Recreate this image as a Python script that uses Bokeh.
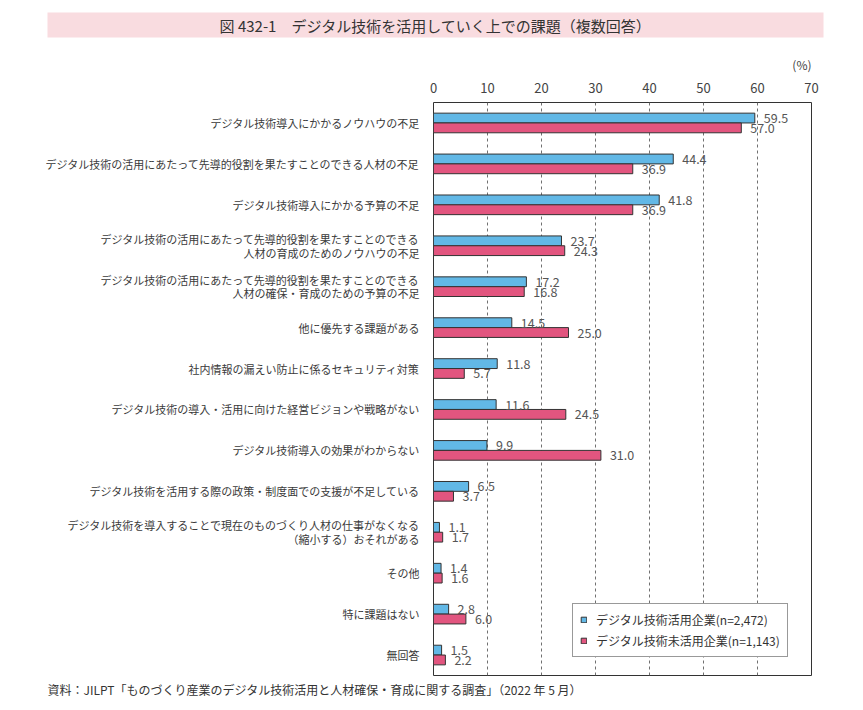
from bokeh.plotting import figure
from bokeh.models import (FactorRange, ColumnDataSource, LinearAxis, CategoricalAxis,
                          FixedTicker, Legend, Title, Range1d)
from bokeh.transform import dodge
from bokeh.embed import file_html
from bokeh.resources import INLINE
from bokeh.core.properties import value

FONT = "Noto Sans CJK JP"

categories = [
    "デジタル技術導入にかかるノウハウの不足",
    "デジタル技術の活用にあたって先導的役割を果たすことのできる人材の不足",
    "デジタル技術導入にかかる予算の不足",
    "デジタル技術の活用にあたって先導的役割を果たすことのできる\n人材の育成のためのノウハウの不足",
    "デジタル技術の活用にあたって先導的役割を果たすことのできる\n人材の確保・育成のための予算の不足",
    "他に優先する課題がある",
    "社内情報の漏えい防止に係るセキュリティ対策",
    "デジタル技術の導入・活用に向けた経営ビジョンや戦略がない",
    "デジタル技術導入の効果がわからない",
    "デジタル技術を活用する際の政策・制度面での支援が不足している",
    "デジタル技術を導入することで現在のものづくり人材の仕事がなくなる\n（縮小する）おそれがある",
    "その他",
    "特に課題はない",
    "無回答",
]
using_values = [59.5, 44.4, 41.8, 23.7, 17.2, 14.5, 11.8, 11.6, 9.9, 6.5, 1.1, 1.4, 2.8, 1.5]
not_using_values = [57.0, 36.9, 36.9, 24.3, 16.8, 25.0, 5.7, 24.5, 31.0, 3.7, 1.7, 1.6, 6.0, 2.2]
series_names = ["デジタル技術活用企業(n=2,472)", "デジタル技術未活用企業(n=1,143)"]
x_ticks = [0, 10, 20, 30, 40, 50, 60, 70]
title_text = "図 432-1　デジタル技術を活用していく上での課題（複数回答）"
unit_text = "(%)"
source_text = "資料：JILPT「ものづくり産業のデジタル技術活用と人材確保・育成に関する調査」（2022 年 5 月）"

BLUE = "#62b8e6"
PINK = "#e2557f"
DARK = "#333333"

# ---------------- header (title band) ----------------
head = figure(width=847, height=44, x_range=Range1d(0, 1), y_range=Range1d(0, 1),
              output_backend="svg", toolbar_location=None,
              x_axis_location=None, y_axis_location=None,
              min_border_left=47, min_border_right=24, min_border_top=12, min_border_bottom=7)
head.background_fill_color = "#f9dce0"
head.border_fill_color = "white"
head.outline_line_color = None
head.xgrid.grid_line_color = None
head.ygrid.grid_line_color = None
head.text(x=[0.5], y=[0.5], text=[title_text], text_align="center", text_baseline="middle",
          text_font=value(FONT), text_font_size="15px", text_color="#333333")

# ---------------- main chart ----------------
src = ColumnDataSource(dict(
    cat=categories,
    a=using_values,
    b=not_using_values,
    a_lbl=[f"{v:.1f}" for v in using_values],
    b_lbl=[f"{v:.1f}" for v in not_using_values],
))

p = figure(
    width=847, height=660,
    y_range=FactorRange(factors=list(reversed(categories)), range_padding=0),
    x_range=(0, 70),
    output_backend="svg", toolbar_location=None,
    x_axis_location=None, y_axis_location=None,
    min_border_left=433, min_border_right=36, min_border_top=58, min_border_bottom=29,
)
p.background_fill_color = "white"
p.border_fill_color = "white"
p.outline_line_color = DARK
p.outline_line_width = 1

# top axis
xa = LinearAxis(ticker=FixedTicker(ticks=x_ticks))
xa.axis_line_color = None
xa.major_tick_line_color = None
xa.minor_tick_line_color = None
xa.major_label_standoff = 4
xa.major_label_text_font = FONT
xa.major_label_text_font_size = "13px"
xa.major_label_text_color = "#444444"
p.add_layout(xa, "above")

# unit label above axis
p.add_layout(Title(text=unit_text, align="right", offset=0, standoff=13,
                   text_font=FONT, text_font_size="12px", text_font_style="normal",
                   text_color="#444444"), "above")

# footer
p.add_layout(Title(text=source_text, align="left", offset=-386, standoff=7,
                   text_font=FONT, text_font_size="12px", text_font_style="normal",
                   text_color="#333333"), "below")

# left axis
ya = CategoricalAxis()
ya.axis_line_color = None
ya.major_tick_line_color = None
ya.minor_tick_line_color = None
ya.major_label_standoff = 8
ya.major_label_text_font = FONT
ya.major_label_text_font_size = "11px"
ya.major_label_text_line_height = 0.85
ya.major_label_text_color = "#3a3a3a"
p.add_layout(ya, "left")

p.xgrid.ticker = FixedTicker(ticks=x_ticks[1:-1])
p.xgrid.grid_line_color = "#707070"
p.xgrid.grid_line_dash = "3 3"
p.xgrid.grid_line_width = 1
p.ygrid.grid_line_color = None

BH = 0.24
ra = p.hbar(y=dodge("cat", BH / 2, range=p.y_range), right="a", left=0, height=BH,
            source=src, fill_color=BLUE, line_color=DARK, line_width=1)
rb = p.hbar(y=dodge("cat", -BH / 2, range=p.y_range), right="b", left=0, height=BH,
            source=src, fill_color=PINK, line_color=DARK, line_width=1)

p.text(x="a", y=dodge("cat", BH / 2, range=p.y_range), text="a_lbl", source=src,
       x_offset=9, text_baseline="middle", text_align="left",
       text_font=value(FONT), text_font_size="12.5px", text_color="#555555")
p.text(x="b", y=dodge("cat", -BH / 2, range=p.y_range), text="b_lbl", source=src,
       x_offset=9, text_baseline="middle", text_align="left",
       text_font=value(FONT), text_font_size="12.5px", text_color="#555555")

legend = Legend(items=[(series_names[0], [ra]), (series_names[1], [rb])],
                location=(139, 18))
legend.glyph_width = 7
legend.glyph_height = 7
legend.label_text_font = FONT
legend.label_text_font_size = "12px"
legend.label_text_color = "#333333"
legend.label_standoff = 9
legend.spacing = 4
legend.padding = 7
legend.margin = 0
legend.border_line_color = DARK
legend.border_line_width = 1
legend.background_fill_alpha = 1
p.add_layout(legend, "center")

open("out.html", "w").write(file_html([head, p], INLINE))
